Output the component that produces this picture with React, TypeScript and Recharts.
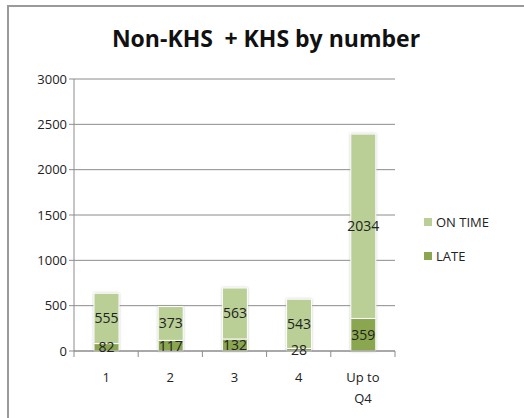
import { Bar, BarChart, CartesianGrid, LabelList, XAxis, YAxis } from "recharts";

const categories = ["1", "2", "3", "4", "Up to Q4"];
const late = [82, 117, 132, 28, 359];
const onTime = [555, 373, 563, 543, 2034];
const yTicks = [0, 500, 1000, 1500, 2000, 2500, 3000];

const data = categories.map((name, i) => ({ name, late: late[i], onTime: onTime[i] }));

const FONT = "'Open Sans', Lato, sans-serif";
const LIGHT = "#b9cf95";
const DARK = "#8aa74f";

function XTick(props: any) {
  const { x, y, payload, index } = props;
  const half = payload?.offset || 32;
  const lines = String(payload.value) === "Up to Q4" ? ["Up to", "Q4"] : [String(payload.value)];
  return (
    <g>
      <line x1={x - half} x2={x - half} y1={y - 8} y2={y - 2} stroke="#8c8c8c" />
      {index === categories.length - 1 && (
        <line x1={x + half} x2={x + half} y1={y - 8} y2={y - 2} stroke="#8c8c8c" />
      )}
      {lines.map((t, i) => (
        <text key={t} x={x} y={y + 23 + i * 21} textAnchor="middle" fontSize={13} fill="#222" fontFamily={FONT}>
          {t}
        </text>
      ))}
    </g>
  );
}

function LegendBox() {
  const items = [
    { label: "ON TIME", color: LIGHT },
    { label: "LATE", color: DARK },
  ];
  return (
    <div style={{ position: "absolute", left: 424, top: 205, fontFamily: FONT, fontSize: 13, color: "#222" }}>
      {items.map((it) => (
        <div key={it.label} style={{ display: "flex", alignItems: "center", height: 34 }}>
          <span style={{ width: 8, height: 8, background: it.color, marginRight: 4 }} />
          {it.label}
        </div>
      ))}
    </div>
  );
}

export default function App() {
  return (
    <div style={{ position: "absolute", left: 0, top: 0, width: 524, height: 418, overflow: "hidden", background: "#fff" }}>
      <div
        style={{
          position: "absolute",
          left: 7,
          top: 5,
          width: 560,
          height: 460,
          border: "2px solid #9a9a9a",
          boxSizing: "border-box",
        }}
      />
      <div
        style={{
          position: "absolute",
          left: 0,
          top: 22,
          width: 532,
          textAlign: "center",
          fontFamily: FONT,
          fontWeight: 700,
          fontSize: 23,
          color: "#111",
          whiteSpace: "pre",
        }}
      >
        {"Non-KHS\u2002+ KHS by number"}
      </div>
      <div style={{ position: "absolute", left: 0, top: 0 }}>
        <BarChart width={524} height={418} data={data} margin={{ top: 79, right: 129, bottom: 0, left: 10 }}>
          <defs>
            <filter id="bar-shadow" x="-30%" y="-10%" width="160%" height="120%">
              <feDropShadow dx="0" dy="0" stdDeviation="1.2" floodColor="#999" floodOpacity="0.6" />
            </filter>
          </defs>
          <CartesianGrid vertical={false} stroke="#8c8c8c" />
          <XAxis
            dataKey="name"
            stroke="#8c8c8c"
            tickLine={false}
            tick={<XTick />}
            height={67}
            interval={0}
          />
          <YAxis
            domain={[0, 3000]}
            ticks={yTicks}
            width={64}
            stroke="#8c8c8c"
            tickSize={5}
            tick={{ fontSize: 13, fill: "#222", fontFamily: FONT }}
          />
          <Bar dataKey="late" stackId="a" fill={DARK} stroke="#fff" strokeWidth={1} barSize={25} isAnimationActive={false} filter="url(#bar-shadow)">
            <LabelList dataKey="late" position="center" fontSize={14} fill="#222" fontFamily={FONT} />
          </Bar>
          <Bar dataKey="onTime" stackId="a" fill={LIGHT} stroke="#fff" strokeWidth={1} barSize={25} isAnimationActive={false} filter="url(#bar-shadow)">
            <LabelList dataKey="onTime" position="center" fontSize={14} fill="#222" fontFamily={FONT} />
          </Bar>
        </BarChart>
      </div>
      <LegendBox />
    </div>
  );
}
